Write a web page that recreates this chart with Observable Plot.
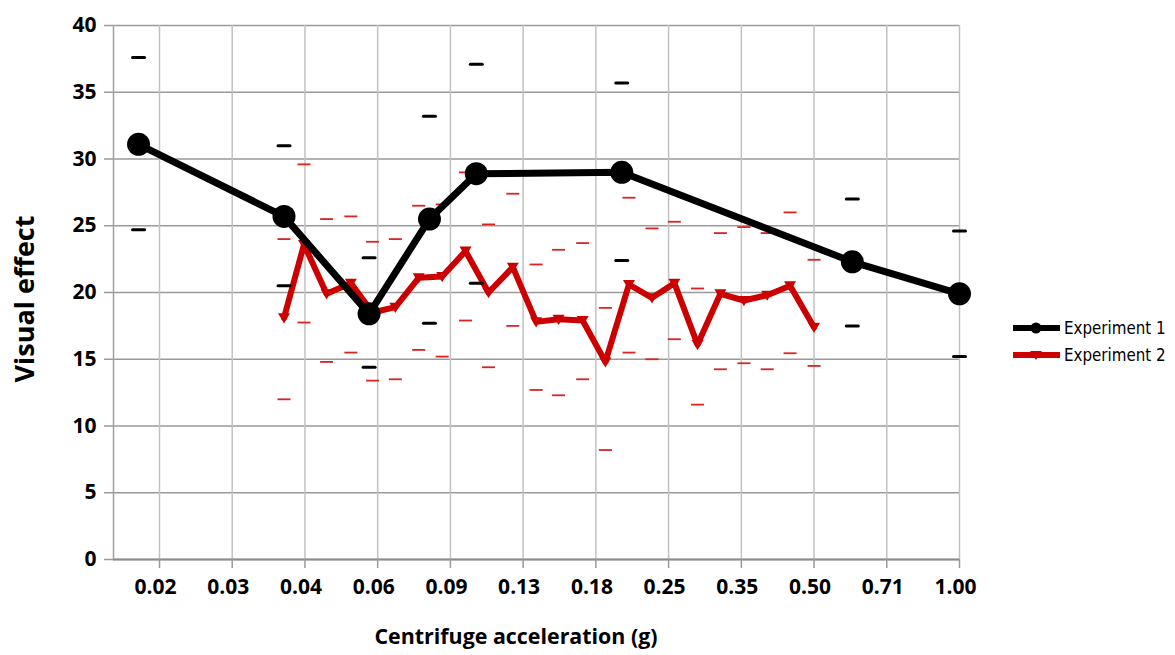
<!DOCTYPE html>
<html><head><meta charset="utf-8">
<script src="https://cdn.jsdelivr.net/npm/d3@7"></script>
<script src="https://cdn.jsdelivr.net/npm/@observablehq/plot@0.6"></script>
<style>
html,body{margin:0;padding:0;background:#fff;}
#wrap{position:relative;width:1175px;height:655px;overflow:hidden;}
.atitle{position:absolute;font-family:"Open Sans",Lato,sans-serif;font-weight:700;color:#000;white-space:nowrap;line-height:1;}
#ylab{left:23px;top:299px;font-size:27px;transform:translate(-50%,-50%) rotate(-90deg);}
#xlab{left:516px;top:636px;font-size:21.4px;transform:translate(-50%,-50%);}
#legend{position:absolute;left:1012px;top:314px;font-family:"DejaVu Sans Condensed","DejaVu Sans",sans-serif;font-size:16.8px;color:#000;}
.item{display:flex;align-items:center;height:27px;}
.item svg{margin-right:3px;}
</style></head>
<body><div id="wrap"></div>
<script>
// ---- data ----
const xDomain = [0.01775, 1];
const xTicks = [0.0221, 0.03125, 0.0442, 0.0625, 0.0884, 0.125, 0.1768, 0.25, 0.3536, 0.5, 0.7071, 1];
const xTickLabels = ["0.02","0.03","0.04","0.06","0.09","0.13","0.18","0.25","0.35","0.50","0.71","1.00"];
const yTicks = [0, 5, 10, 15, 20, 25, 30, 35, 40];
const seriesNames = ["Experiment 1", "Experiment 2"];

const exp1X  = [0.02, 0.04, 0.06, 0.08, 0.10, 0.20, 0.60, 1.00];
const exp1Y  = [31.1, 25.7, 18.4, 25.5, 28.9, 29.0, 22.3, 19.9];
const exp1Hi = [37.6, 31.0, 22.6, 33.2, 37.1, 35.7, 27.0, 24.6];
const exp1Lo = [24.7, 20.5, 14.4, 17.7, 20.7, 22.4, 17.5, 15.2];

const exp2X  = [0.040, 0.044, 0.049, 0.055, 0.061, 0.068, 0.076, 0.085, 0.095, 0.106, 0.119, 0.133,
                0.148, 0.166, 0.185, 0.207, 0.231, 0.257, 0.287, 0.320, 0.358, 0.400, 0.446, 0.500];
const exp2Y  = [18.1, 23.6, 19.9, 20.7, 18.5, 18.9, 21.1, 21.2, 23.1, 20.0, 21.9, 17.8,
                18.0, 17.9, 14.8, 20.6, 19.6, 20.7, 16.1, 19.9, 19.4, 19.8, 20.5, 17.4];
const exp2Hi = [24.0, 29.6, 25.5, 25.7, 23.8, 24.0, 26.5, 26.6, 29.0, 25.1, 27.4, 22.1,
                23.2, 23.7, 18.85, 27.1, 24.8, 25.3, 20.3, 24.45, 24.9, 24.45, 26.0, 22.45];
const exp2Lo = [12.0, 17.75, 14.8, 15.5, 13.4, 13.5, 15.7, 15.2, 17.9, 14.4, 17.5, 12.7,
                12.3, 13.5, 8.2, 15.5, 15.0, 16.5, 11.6, 14.25, 14.7, 14.25, 15.45, 14.5];

const colors = ["#000000", "#cc0000"];
const capColors = ["#000000", "#dd2222"];

// ---- tables ----
const exp1 = exp1X.map((x, i) => ({x, y: exp1Y[i], hi: exp1Hi[i], lo: exp1Lo[i]}));
const exp2 = exp2X.map((x, i) => ({x, y: exp2Y[i], hi: exp2Hi[i], lo: exp2Lo[i]}));
const xTickTable = xTicks.map((v, i) => ({v, label: xTickLabels[i]}));

const triDown = {draw(ctx, size) {
  const r = Math.sqrt(size / Math.PI);
  ctx.moveTo(-r, -0.75 * r); ctx.lineTo(r, -0.75 * r); ctx.lineTo(0, 0.95 * r); ctx.closePath();
}};
const dash = {draw(ctx, size) {
  const r = Math.sqrt(size / Math.PI);
  ctx.moveTo(-r, 0); ctx.lineTo(r, 0);
}};

const font = {fontFamily: "'Open Sans', Lato, sans-serif", fontSize: 21, fontWeight: 700};

const chart = Plot.plot({
  width: 1175, height: 655,
  marginLeft: 113, marginRight: 216, marginTop: 25, marginBottom: 96,
  style: {background: "#fff", color: "#000", overflow: "visible", fontFamily: "'Open Sans', Lato, sans-serif", fontSize: "21px", fontWeight: 700},
  x: {type: "log", domain: xDomain},
  y: {domain: [0, 40]},
  marks: [
    Plot.gridY(yTicks, {stroke: "#9a9a9a", strokeOpacity: 1, strokeWidth: 1.5}),
    Plot.gridX(xTicks, {stroke: "#c2c2c2", strokeOpacity: 1, strokeWidth: 1.5}),
    Plot.ruleX([xDomain[0]], {stroke: "#a0a0a0", strokeWidth: 1.5}),
    Plot.ruleY([0], {stroke: "#8c8c8c", strokeWidth: 2}),
    Plot.axisY(yTicks, {tickSize: 9, tickPadding: 8, stroke: "#9a9a9a", strokeWidth: 1.5, fill: "#000", label: null, ...font}),
    Plot.axisX(xTicks, {tickSize: 9, stroke: "#9a9a9a", strokeWidth: 1.5, text: null, label: null}),
    Plot.text(xTickTable, {x: "v", text: "label", frameAnchor: "bottom", lineAnchor: "top", dy: 20, dx: -4, fill: "#000", ...font}),
    // Experiment 2
    Plot.line(exp2, {x: "x", y: "y", stroke: colors[1], strokeWidth: 6, strokeLinejoin: "round"}),
    Plot.dot(exp2, {x: "x", y: "y", symbol: triDown, r: 6, fill: colors[1], stroke: "none"}),
    Plot.dot(exp2, {x: "x", y: "hi", symbol: dash, r: 6.5, fill: "none", stroke: capColors[1], strokeWidth: 1.8}),
    Plot.dot(exp2, {x: "x", y: "lo", symbol: dash, r: 6.5, fill: "none", stroke: capColors[1], strokeWidth: 1.8}),
    // Experiment 1
    Plot.line(exp1, {x: "x", y: "y", stroke: colors[0], strokeWidth: 7, strokeLinejoin: "round"}),
    Plot.dot(exp1, {x: "x", y: "y", r: 11.5, fill: colors[0], stroke: "none"}),
    Plot.dot(exp1, {x: "x", y: "hi", symbol: dash, r: 6, fill: "none", stroke: capColors[0], strokeWidth: 3, strokeLinecap: "round"}),
    Plot.dot(exp1, {x: "x", y: "lo", symbol: dash, r: 6, fill: "none", stroke: capColors[0], strokeWidth: 3, strokeLinecap: "round"})
  ]
});

const wrap = document.getElementById("wrap");
wrap.appendChild(chart);

const ylab = document.createElement("div");
ylab.className = "atitle"; ylab.id = "ylab"; ylab.textContent = "Visual effect";
wrap.appendChild(ylab);
const xlab = document.createElement("div");
xlab.className = "atitle"; xlab.id = "xlab"; xlab.textContent = "Centrifuge acceleration (g)";
wrap.appendChild(xlab);

const legend = document.createElement("div");
legend.id = "legend";
seriesNames.forEach((name, i) => {
  const item = document.createElement("div");
  item.className = "item";
  const marker = i === 0
    ? `<circle cx="24" cy="8" r="5.5" fill="${colors[0]}"/>`
    : `<path d="M18,4 L30,4 L24,13 Z" fill="${colors[1]}"/>`;
  item.innerHTML = `<svg width="49" height="16"><line x1="1" x2="48" y1="8" y2="8" stroke="${colors[i]}" stroke-width="6"/>${marker}</svg><span>${name}</span>`;
  legend.appendChild(item);
});
wrap.appendChild(legend);
</script>
</body></html>
